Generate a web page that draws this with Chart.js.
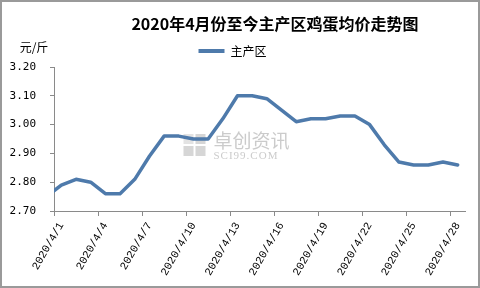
<!DOCTYPE html>
<html>
<head>
<meta charset="utf-8">
<script src="https://cdn.jsdelivr.net/npm/chart.js@4/dist/chart.umd.min.js"></script>
<style>
  html, body { margin: 0; padding: 0; background: #fff; }
  #wrap { width: 480px; height: 288px; position: relative; }
  canvas { display: block; }
</style>
</head>
<body>
<div id="wrap"><canvas id="c" width="480" height="288"></canvas></div>
<script>
// ---- data ----
const chartTitle = '2020年4月份至今主产区鸡蛋均价走势图';
const unitLabel = '元/斤';
const seriesName = '主产区';
const categories = ['2020/3/31','2020/4/1','2020/4/2','2020/4/3','2020/4/4','2020/4/5','2020/4/6','2020/4/7','2020/4/8','2020/4/9','2020/4/10','2020/4/11','2020/4/12','2020/4/13','2020/4/14','2020/4/15','2020/4/16','2020/4/17','2020/4/18','2020/4/19','2020/4/20','2020/4/21','2020/4/22','2020/4/23','2020/4/24','2020/4/25','2020/4/26','2020/4/27','2020/4/28'];
const prices = [2.75, 2.79, 2.81, 2.80, 2.76, 2.76, 2.81, 2.89, 2.96, 2.96, 2.95, 2.95, 3.02, 3.10, 3.10, 3.09, 3.05, 3.01, 3.02, 3.02, 3.03, 3.03, 3.00, 2.93, 2.87, 2.86, 2.86, 2.87, 2.86];
const xTickLabels = ['2020/4/1','2020/4/4','2020/4/7','2020/4/10','2020/4/13','2020/4/16','2020/4/19','2020/4/22','2020/4/25','2020/4/28'];
const yMin = 2.7, yMax = 3.2, yStep = 0.1;
const xFirst = '2020/4/1', xLast = '2020/4/28';

const lineColor = '#4e7aab';
const axisColor = '#8a8a8a';

const decorPlugin = {
  id: 'decor',
  beforeDatasetsDraw(chart) {
    const ctx = chart.ctx, a = chart.chartArea;
    const cx = (a.left + a.right) / 2 - 19, cy = (a.top + a.bottom) / 2 + 6;
    ctx.save();
    // watermark logo
    ctx.fillStyle = 'rgba(200,200,200,0.75)';
    const s = 10, g = 2, lx = cx - 57, ly = cy - 11;
    ctx.fillRect(lx + s + g, ly, s, s);
    ctx.fillRect(lx, ly + s + g, s, s);
    ctx.fillRect(lx + s + g, ly + s + g, s, s);
    ctx.fillStyle = 'rgba(200,200,200,0.5)';
    ctx.fillRect(lx, ly, s, s);
    ctx.fillStyle = 'rgba(185,185,185,0.75)';
    ctx.font = '19px "Noto Sans CJK SC"';
    ctx.textAlign = 'left';
    ctx.textBaseline = 'middle';
    ctx.fillText('卓创资讯', lx + 2 * s + g + 8, cy - 4);
    ctx.font = '11px "Liberation Serif"';
    try { ctx.letterSpacing = '1px'; } catch (e) {}
    ctx.fillText('SCI99.COM', lx + 2 * s + g + 8, cy + 11);
    ctx.restore();
  },
  afterDraw(chart) {
    const ctx = chart.ctx;
    ctx.save();
    ctx.fillStyle = '#000';
    ctx.textAlign = 'center';
    ctx.textBaseline = 'middle';
    ctx.font = 'bold 16px "Noto Sans CJK SC"';
    ctx.fillText(chartTitle, 275, 24);
    ctx.font = '12px "Noto Sans CJK SC"';
    ctx.fillText(unitLabel, 34, 47);
    ctx.strokeStyle = '#9a9a9a';
    ctx.lineWidth = 2;
    ctx.strokeRect(1, 1, 478, 286);
    ctx.restore();
  }
};

new Chart(document.getElementById('c'), {
  type: 'line',
  data: {
    labels: categories,
    datasets: [{
      label: seriesName,
      data: prices,
      borderColor: lineColor,
      backgroundColor: lineColor,
      borderWidth: 3.5,
      borderJoinStyle: 'round',
      borderCapStyle: 'round',
      pointRadius: 0,
      tension: 0,
      clip: 0
    }]
  },
  options: {
    responsive: false,
    animation: false,
    layout: { padding: { top: 37, left: 0, right: 15, bottom: 0 } },
    plugins: {
      title: { display: false },
      tooltip: { enabled: false },
      legend: {
        display: true,
        position: 'top',
        labels: {
          boxWidth: 26,
          boxHeight: 4,
          padding: 8,
          color: '#000',
          font: { family: 'Noto Sans CJK SC', size: 12 },
          generateLabels: (chart) => [{
            text: seriesName, fillStyle: lineColor, strokeStyle: lineColor,
            lineWidth: 0, hidden: false, datasetIndex: 0
          }]
        }
      }
    },
    scales: {
      x: {
        type: 'category',
        min: xFirst,
        max: xLast,
        offset: true,
        grid: {
          offset: true,
          drawOnChartArea: false,
          tickLength: 5,
          color: (c) => (c.index % 3 === 0 ? axisColor : 'rgba(0,0,0,0)')
        },
        border: { color: axisColor, width: 1 },
        ticks: {
          autoSkip: false,
          minRotation: 60,
          maxRotation: 60,
          padding: 4,
          color: '#000',
          font: { family: 'Liberation Mono', size: 11 },
          callback: function (v) {
            const l = this.getLabelForValue(v);
            return xTickLabels.includes(l) ? l : '';
          }
        },
        afterFit: (scale) => { scale.height = 77; }
      },
      y: {
        min: yMin,
        max: yMax,
        grid: { drawOnChartArea: false, tickLength: 4, color: axisColor },
        border: { color: axisColor, width: 1 },
        ticks: {
          stepSize: yStep,
          padding: 14,
          color: '#000',
          font: { family: 'DejaVu Sans Mono', size: 11 },
          callback: (v) => Number(v).toFixed(2)
        },
        afterFit: (scale) => { scale.width = 54; }
      }
    }
  },
  plugins: [decorPlugin]
});
</script>
</body>
</html>
